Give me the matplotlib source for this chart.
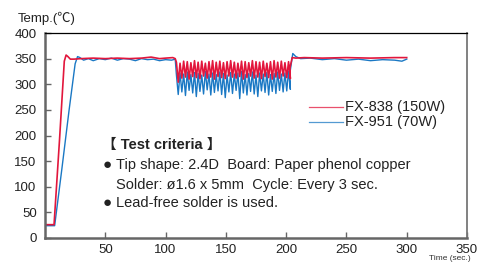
import numpy as np
import matplotlib
matplotlib.use("Agg")
import matplotlib.pyplot as plt

plt.rcParams['font.family'] = ['Liberation Sans', 'Noto Sans CJK JP', 'DejaVu Sans']

# FX-838 (150W) - warm up and idle
red_t1 = [0, 7.5, 12, 16, 17.5, 19, 21, 24, 30, 40, 50, 60, 70, 80, 88, 95, 100, 106, 108]
red_v1 = [26, 26, 190, 345, 357, 354, 349, 349, 350, 351, 350, 351, 350, 351, 353, 350, 351, 352, 350]
# FX-951 (70W) - warm up and idle
blue_t1 = [0, 8, 14, 20, 25, 27, 29, 32, 36, 40, 45, 50, 55, 60, 65, 70, 75, 80, 85, 90, 95, 100, 105, 108]
blue_v1 = [24, 24, 135, 250, 340, 354, 352, 347, 350, 346, 350, 348, 351, 347, 350, 349, 346, 350, 348, 349, 346, 348, 347, 349]

# soldering every 3 sec: peak / trough per cycle
cycle_t = np.arange(109.0, 203.0, 3.0)
red_peak = [343, 341, 345, 344, 342, 346, 343, 345, 341, 344, 346, 343, 345, 342, 344, 346,
            343, 341, 345, 344, 342, 346, 344, 343, 345, 341, 344, 346, 343, 345, 342, 344]
red_low = [304, 312, 314, 310, 315, 313, 311, 316, 312, 314, 310, 315, 313, 311, 316, 314,
           312, 315, 310, 313, 316, 312, 314, 311, 315, 313, 310, 314, 312, 316, 313, 311]
blue_peak = [318, 322, 320, 324, 319, 323, 321, 318, 325, 320, 322, 319, 324, 321, 318, 323,
             320, 322, 325, 319, 321, 324, 318, 322, 320, 323, 319, 321, 324, 320, 322, 326]
blue_low = [280, 285, 278, 288, 283, 276, 286, 281, 289, 279, 284, 287, 280, 274, 285, 282,
            288, 272, 283, 279, 286, 281, 276, 287, 284, 279, 286, 282, 288, 285, 287, 290]

# recovery and idle
red_t3 = [203, 205, 208, 215, 230, 250, 270, 290, 300]
red_v3 = [330, 352, 351, 352, 351, 352, 351, 352, 352]
blue_t3 = [203, 205.5, 208, 212, 220, 230, 240, 250, 260, 270, 280, 290, 296, 300]
blue_v3 = [320, 360, 354, 350, 351, 348, 350, 347, 349, 346, 348, 347, 345, 349]


def build(t1, v1, peaks, lows, t3, v3):
    t = list(t1)
    v = list(v1)
    for ct, p, lo in zip(cycle_t, peaks, lows):
        t += [ct, ct + 1.5]
        v += [p, lo]
    t += list(t3)
    v += list(v3)
    return t, v


rt, rv = build(red_t1, red_v1, red_peak, red_low, red_t3, red_v3)
bt, bv = build(blue_t1, blue_v1, blue_peak, blue_low, blue_t3, blue_v3)

red = '#e2163c'
blue = '#1a78c4'
txt = '#222222'

fig = plt.figure(figsize=(4.78, 2.64), dpi=100)
ax = fig.add_axes([45/478, 26/264, 422/478, 205/264])
ax.plot(bt, bv, color=blue, lw=1.0)
ax.plot(rt, rv, color=red, lw=1.2)

ax.set_xlim(0, 350)
ax.set_ylim(0, 400)
ax.set_xticks([50, 100, 150, 200, 250, 300, 350])
ax.set_yticks(range(0, 401, 50))
ax.tick_params(direction='in', length=4, width=1, color='#666666', labelsize=9.5,
               labelcolor=txt, pad=6)
ax.tick_params(axis='x', pad=4)
for s in ['left', 'bottom']:
    ax.spines[s].set_color('#666666')
    ax.spines[s].set_linewidth(1.8)
ax.spines['right'].set_color('#777777')
ax.spines['right'].set_linewidth(1.3)
ax.spines['top'].set_color('black')
ax.spines['top'].set_linewidth(0.9)

fig.text(18/478, 1 - 18/264, 'Temp.(℃)', fontsize=9.5, va='center', ha='left', color=txt)
fig.text(429/478, 1 - 258/264, 'Time (sec.)', fontsize=6, va='center', ha='left', color='#333333')

# legend
ax.plot([219, 247], [256, 256], color=red, lw=0.9, alpha=0.75)
ax.plot([219, 247], [227, 227], color=blue, lw=0.9, alpha=0.75)
ax.text(249, 256, 'FX-838 (150W)', fontsize=10.5, va='center', color=txt)
ax.text(249, 227, 'FX-951 (70W)', fontsize=10.5, va='center', color=txt)

# test criteria
ax.text(47, 181, '【 Test criteria 】', fontsize=10.5, fontweight='bold', va='center', color=txt)
ax.text(48, 142, '●', fontsize=11, va='center', color=txt)
ax.text(59, 142, 'Tip shape: 2.4D  Board: Paper phenol copper', fontsize=10.5, va='center', color=txt)
ax.text(59, 103, 'Solder: ø1.6 x 5mm  Cycle: Every 3 sec.', fontsize=10.5, va='center', color=txt)
ax.text(48, 68, '●', fontsize=11, va='center', color=txt)
ax.text(59, 68, 'Lead-free solder is used.', fontsize=10.5, va='center', color=txt)

fig.savefig('out.png', dpi=100)
